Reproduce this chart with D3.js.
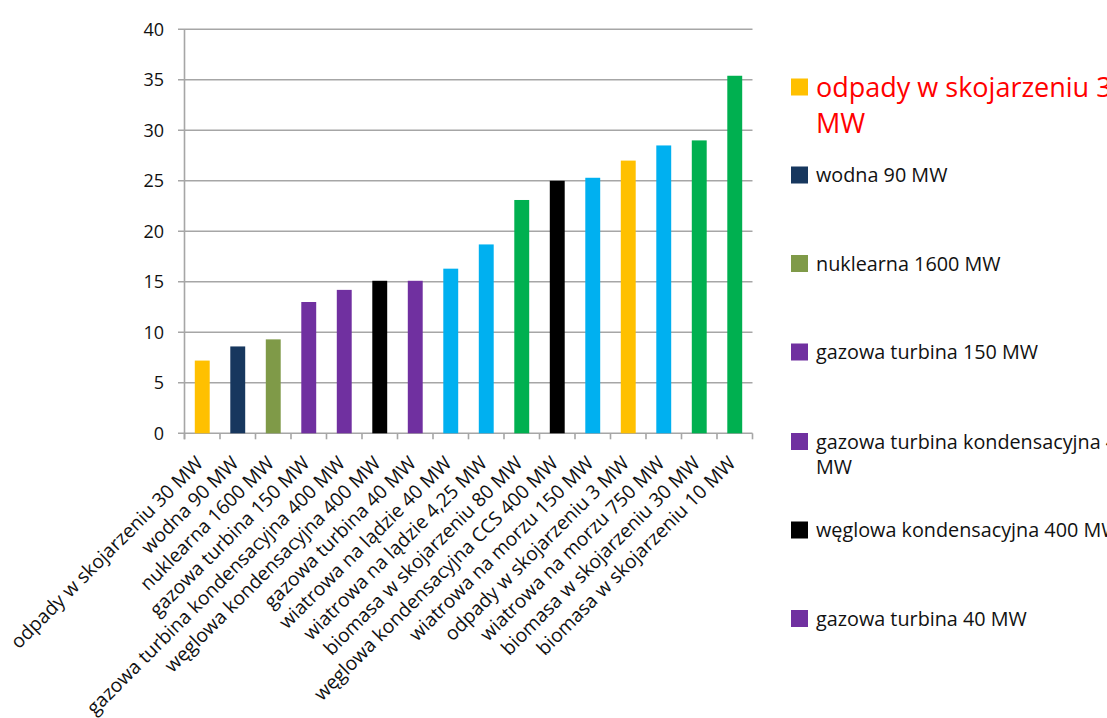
<!DOCTYPE html>
<html><head><meta charset="utf-8">
<script src="https://cdn.jsdelivr.net/npm/d3@7"></script>
<style>body{margin:0;background:#fff;overflow:hidden}svg{display:block}text{font-family:"Open Sans",Lato,sans-serif}</style>
</head><body>
<svg id="c" width="1107" height="718"></svg>
<script>
const categories = ["odpady w skojarzeniu 30 MW","wodna 90 MW","nuklearna 1600 MW","gazowa turbina 150 MW","gazowa turbina kondensacyjna 400 MW","węglowa kondensacyjna 400 MW","gazowa turbina 40 MW","wiatrowa na lądzie 40 MW","wiatrowa na lądzie 4,25 MW","biomasa w skojarzeniu 80 MW","węglowa kondensacyjna CCS 400 MW","wiatrowa na morzu 150 MW","odpady w skojarzeniu 3 MW","wiatrowa na morzu 750 MW","biomasa w skojarzeniu 30 MW","biomasa w skojarzeniu 10 MW"];
const values = [7.2,8.6,9.3,13.0,14.2,15.1,15.1,16.3,18.7,23.1,25.0,25.3,27.0,28.5,29.0,35.4];
const colors = ["#FFC000","#17375E","#7F9A48","#7030A0","#7030A0","#000000","#7030A0","#00B0F0","#00B0F0","#00B050","#000000","#00B0F0","#FFC000","#00B0F0","#00B050","#00B050"];
const yTicks = [0,5,10,15,20,25,30,35,40];
const legendItems = [["odpady w skojarzeniu 30","MW"],["wodna 90 MW"],["nuklearna 1600 MW"],["gazowa turbina 150 MW"],["gazowa turbina kondensacyjna 400","MW"],["węglowa kondensacyjna 400 MW"],["gazowa turbina 40 MW"]];
const legendColors = ["#FFC000","#17375E","#7F9A48","#7030A0","#7030A0","#000000","#7030A0"];

const svg = d3.select("#c");
const x = d3.scaleBand().domain(categories).range([184.5,752.5]).paddingInner(0.58).paddingOuter(0.29);
const y = d3.scaleLinear().domain([0,40]).range([433.3,29.3]);

// gridlines
svg.append("g").selectAll("line").data(yTicks).join("line")
  .attr("x1",178).attr("x2",752.5).attr("y1",d=>y(d)).attr("y2",d=>y(d))
  .attr("stroke","#A6A6A6").attr("stroke-width",1.6);
// y labels
svg.append("g").selectAll("text").data(yTicks).join("text")
  .attr("x",164).attr("y",d=>y(d)).attr("dy","0.36em").attr("text-anchor","end")
  .attr("font-size",18).attr("fill","#111").text(d=>d);
// left axis
svg.append("line").attr("x1",184.5).attr("x2",184.5).attr("y1",y(40)).attr("y2",y(0)+6).attr("stroke","#A6A6A6").attr("stroke-width",1.6);
// x ticks at boundaries
const bounds = d3.range(categories.length+1).map(i=>184.5+i*(752.5-184.5)/categories.length);
svg.append("g").selectAll("line").data(bounds).join("line")
  .attr("x1",d=>d).attr("x2",d=>d).attr("y1",y(0)).attr("y2",y(0)+6)
  .attr("stroke","#A6A6A6").attr("stroke-width",1.6);
// bars
svg.append("g").selectAll("rect").data(values).join("rect")
  .attr("x",(d,i)=>x(categories[i])).attr("width",x.bandwidth())
  .attr("y",d=>y(d)).attr("height",d=>y(0)-y(d))
  .attr("fill",(d,i)=>colors[i]);
// x labels
svg.append("g").selectAll("text").data(categories).join("text")
  .attr("transform",d=>`translate(${x(d)+x.bandwidth()/2+2},${y(0)+31}) rotate(-45)`)
  .attr("text-anchor","end").attr("font-size",19.3).attr("fill","#111").text(d=>d);
// legend
const lg = svg.append("g");
const ly = [87,175,263.5,352,441.5,530,618.5];
legendItems.forEach((lines,i)=>{
  const big = i===0;
  const fs = big?27:19.8;
  lg.append("rect").attr("x",791).attr("y",ly[i]-8.5).attr("width",17).attr("height",17).attr("fill",legendColors[i]);
  const t = lg.append("text").attr("x",816).attr("y",ly[i])
    .attr("font-size",fs).attr("fill",big?"#FF0000":"#111");
  lines.forEach((l,j)=>t.append("tspan").attr("x",816).attr("dy",j===0?"0.36em":(big?"1.34em":"1.3em")).text(l));
});
</script>
</body></html>
